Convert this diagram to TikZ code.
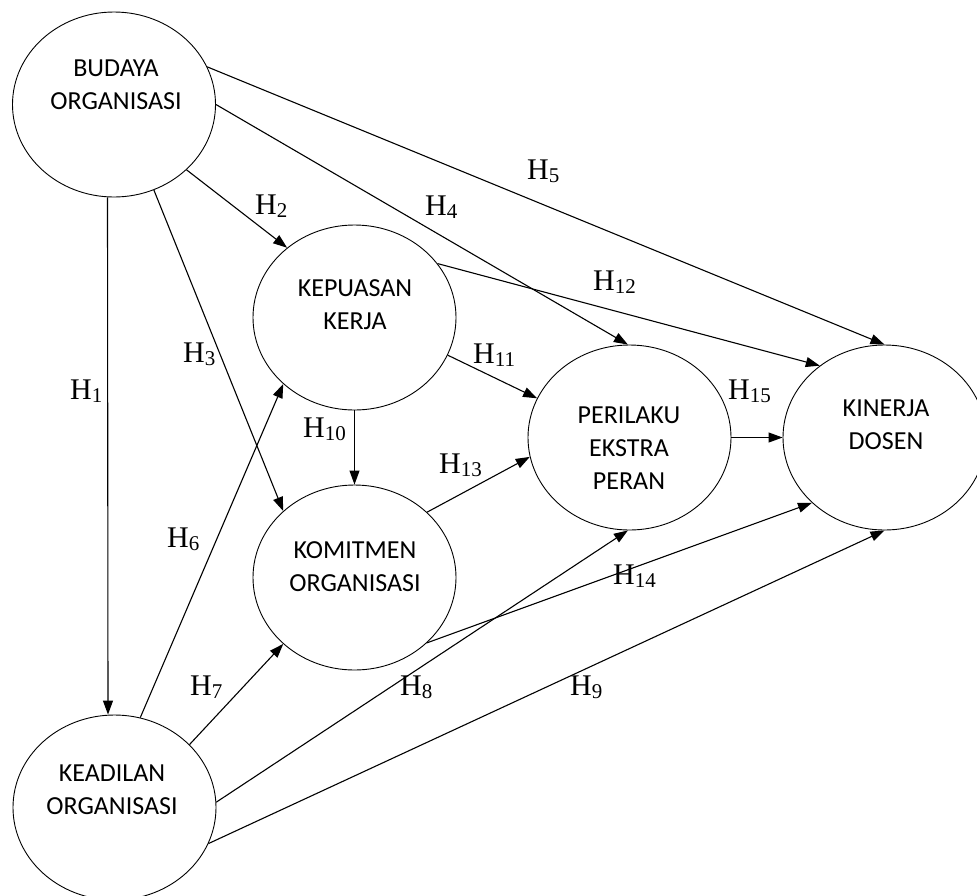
\documentclass[tikz,border=0pt]{standalone}
\usepackage{fontspec}
\usetikzlibrary{arrows.meta,shapes.geometric}
\newfontfamily\hfont{Liberation Serif}
\newfontfamily\nfont{Carlito}
% hypothesis label: H with a small, slightly lowered index
\newcommand\hlab[1]{H\raisebox{-3pt}{\fontsize{21}{21}\selectfont#1}}
\begin{document}
\begin{tikzpicture}[x=1pt,y=-1pt,
  ell/.style={draw,ellipse,line width=0.9pt,minimum width=203pt,minimum height=185pt,inner sep=0pt},
  ntext/.style={align=center,inner sep=0pt,text depth=0pt,font=\nfont\fontsize{26}{33}\selectfont},
  hyp/.style={anchor=base west,inner sep=0pt,font=\hfont\fontsize{30}{30}\selectfont},
  arr/.style={draw,line width=1.1pt,-{Triangle[length=14pt,width=10pt]}}]
\useasboundingbox (0,0) rectangle (977,895);

% constructs
\node[ell] (bo) at (114,104.5) {};
\node[ell] (ko) at (114.5,807.5) {};
\node[ell] (kp) at (354.5,317.5) {};
\node[ell] (km) at (354.5,577.5) {};
\node[ell] (pe) at (629.5,437.5) {};
\node[ell] (kd) at (884.5,437.5) {};

\node[ntext] (bot) at (116,84.5) {BUDAYA\\ORGANISASI};
\node[ntext] (kot) at (112,790) {KEADILAN\\ORGANISASI};
\node[ntext] (kpt) at (355,304.5) {KEPUASAN\\KERJA};
\node[ntext] (kmt) at (355,567) {KOMITMEN\\ORGANISASI};
\node[ntext] (pet) at (629,448) {PERILAKU\\EKSTRA\\PERAN};
\node[ntext] (kdt) at (886,424.5) {KINERJA\\DOSEN};

% paths
\draw[arr] ([xshift=-6.5pt]bo.south) -- ([xshift=-6.5pt]ko.north);
\draw[arr] (bo.-42) -- (kp.134.6);
\draw[arr] (bo.-65) -- (km.137.5);
\draw[arr] (bo.0) -- (pe.91);
\draw[arr] (bo.22) -- (kd.90);
\draw[arr] (ko.74.5) -- (kp.223.4);
\draw[arr] (ko.40) -- (km.223);
\draw[arr] (ko.3) -- (pe.-91);
\draw[arr] (ko.-21) -- (kd.-90);
\draw[arr] (kp.south) -- (km.north);
\draw[arr] (kp.-22) -- (pe.157);
\draw[arr] (kp.33) -- (kd.132);
\draw[arr] (km.42) -- (pe.191);
\draw[arr] (km.-42) -- (kd.222);
\draw[arr] (pe.east) -- (kd.west);

% hypothesis labels
\node[hyp] (h1) at (70,399) {\hlab{1}};
\node[hyp] (h2) at (255,214) {\hlab{2}};
\node[hyp] (h3) at (183,362) {\hlab{3}};
\node[hyp] (h4) at (425,215) {\hlab{4}};
\node[hyp] (h5) at (527,179) {\hlab{5}};
\node[hyp] (h6) at (167,547) {\hlab{6}};
\node[hyp] (h7) at (190,695) {\hlab{7}};
\node[hyp] (h8) at (400,695) {\hlab{8}};
\node[hyp] (h9) at (570,695) {\hlab{9}};
\node[hyp] (h10) at (303,437) {\hlab{10}};
\node[hyp] (h11) at (473,363) {\hlab{11}};
\node[hyp] (h12) at (593,290) {\hlab{12}};
\node[hyp] (h13) at (439,473) {\hlab{13}};
\node[hyp] (h14) at (613,584) {\hlab{14}};
\node[hyp] (h15) at (728,399) {\hlab{15}};
\end{tikzpicture}
\end{document}
